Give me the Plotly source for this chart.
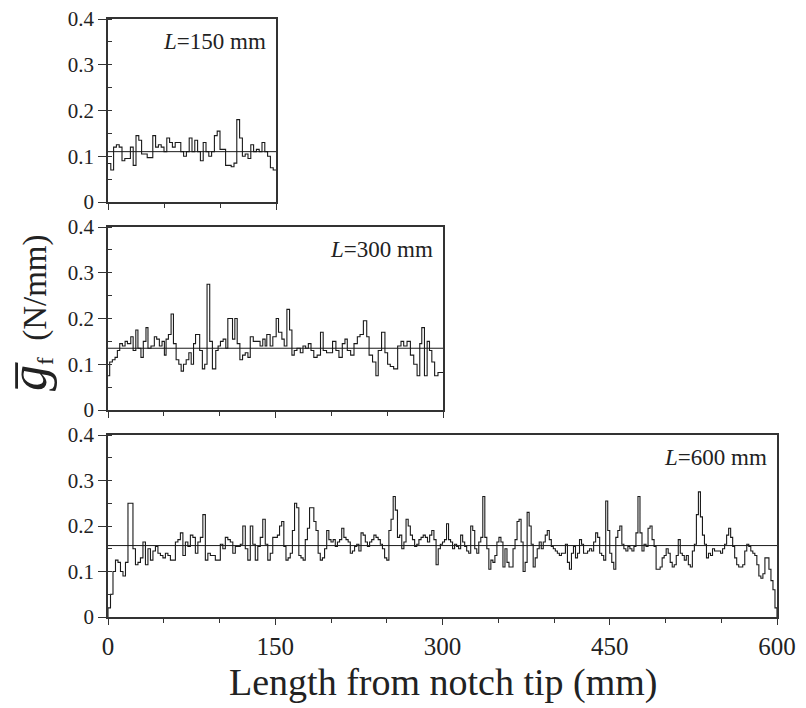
import plotly.graph_objects as go

# ---------------- data (mm, N/mm) ----------------
top_L = 150
top_bin = 2.5
top_mean = 0.11
top_vals = [0.084, 0.07, 0.12, 0.125, 0.12, 0.09, 0.095, 0.095, 0.12, 0.08,
            0.145, 0.135, 0.105, 0.105, 0.097, 0.097, 0.145, 0.12, 0.125, 0.12,
            0.11, 0.14, 0.13, 0.12, 0.13, 0.13, 0.11, 0.10, 0.11, 0.14,
            0.11, 0.135, 0.11, 0.09, 0.13, 0.11, 0.10, 0.11, 0.145, 0.155,
            0.115, 0.115, 0.08, 0.08, 0.077, 0.085, 0.18, 0.14, 0.10, 0.105,
            0.095, 0.125, 0.11, 0.115, 0.11, 0.13, 0.11, 0.10, 0.075, 0.07]

mid_L = 300
mid_mean = 0.135
mid_starts = [0, 1.5, 3.9, 6.3, 8.4, 10.5, 12.9, 15.3, 17.4, 20.4,
              22.5, 24.9, 26.8, 29.5, 31.6, 34.0, 35.8, 38.5, 41.5, 43.6,
              46.0, 48.4, 50.5, 52.0, 54.1, 56.5, 58.6, 61.0, 63.4, 65.5,
              67.6, 70.0, 72.4, 74.5, 76.6, 78.4, 82.1, 84.5, 86.6, 88.7,
              91.1, 93.5, 96.5, 98.6, 100.7, 103.1, 105.5, 107.3, 111.5, 113.6,
              115.7, 118.1, 120.5, 122.9, 125.3, 127.4, 130.1, 133.2, 136.2, 138.6,
              140.7, 142.2, 145.2, 147.6, 150.6, 152.7, 155.7, 157.8, 160.2, 162.6,
              164.7, 166.8, 169.2, 172.2, 174.6, 177.0, 179.4, 181.8, 184.3, 187.3,
              190.3, 192.7, 195.7, 198.7, 201.1, 204.1, 206.8, 209.8, 212.2, 214.3,
              217.3, 220.3, 223.3, 225.7, 228.7, 231.7, 233.8, 236.9, 239.9, 242.0,
              245.0, 248.0, 250.4, 252.8, 255.8, 259.4, 262.4, 264.8, 267.8, 270.8,
              273.8, 276.8, 279.2, 281.0, 283.4, 285.8, 287.9, 290.0, 292.5, 295.5]
mid_vals = [0.075, 0.105, 0.11, 0.115, 0.13, 0.145, 0.14, 0.15, 0.145, 0.16,
            0.13, 0.175, 0.135, 0.115, 0.15, 0.18, 0.135, 0.14, 0.16, 0.155,
            0.14, 0.15, 0.12, 0.155, 0.165, 0.21, 0.145, 0.11, 0.10, 0.085,
            0.10, 0.11, 0.125, 0.10, 0.145, 0.165, 0.13, 0.09, 0.10, 0.275,
            0.15, 0.09, 0.13, 0.14, 0.15, 0.155, 0.135, 0.20, 0.155, 0.20,
            0.145, 0.11, 0.12, 0.125, 0.115, 0.16, 0.15, 0.15, 0.14, 0.155,
            0.14, 0.165, 0.14, 0.16, 0.20, 0.17, 0.155, 0.14, 0.22, 0.175,
            0.12, 0.13, 0.135, 0.125, 0.14, 0.135, 0.145, 0.13, 0.115, 0.12,
            0.17, 0.13, 0.125, 0.125, 0.15, 0.13, 0.115, 0.145, 0.155, 0.13,
            0.12, 0.145, 0.16, 0.165, 0.195, 0.16, 0.12, 0.105, 0.075, 0.13,
            0.17, 0.125, 0.10, 0.095, 0.09, 0.14, 0.15, 0.14, 0.15, 0.12,
            0.10, 0.075, 0.145, 0.18, 0.075, 0.15, 0.13, 0.105, 0.075, 0.082]

bot_L = 600
bot_seg_len = 150
bot_mean = 0.157
bot_seg_a = [0.02, 0.05, 0.10, 0.125, 0.12, 0.10, 0.09, 0.12, 0.25, 0.25,
             0.15, 0.115, 0.12, 0.13, 0.165, 0.115, 0.15, 0.125, 0.145, 0.155,
             0.14, 0.135, 0.13, 0.14, 0.135, 0.125, 0.125, 0.165, 0.17, 0.185,
             0.135, 0.165, 0.155, 0.18, 0.175, 0.14, 0.165, 0.175, 0.225, 0.125,
             0.14, 0.135, 0.135, 0.125, 0.125, 0.16, 0.15, 0.175, 0.17, 0.165,
             0.14, 0.155, 0.155, 0.16, 0.20, 0.15, 0.125, 0.20, 0.16, 0.125,
             0.155, 0.175, 0.215, 0.16, 0.125, 0.14, 0.175]
bot_seg_b = [0.175, 0.18, 0.20, 0.21, 0.155, 0.125, 0.13, 0.14, 0.19, 0.25,
             0.24, 0.135, 0.13, 0.125, 0.17, 0.195, 0.24, 0.24, 0.21, 0.19,
             0.14, 0.125, 0.13, 0.15, 0.19, 0.17, 0.165, 0.17, 0.155, 0.165,
             0.17, 0.195, 0.175, 0.17, 0.165, 0.14, 0.145, 0.155, 0.16, 0.145,
             0.185, 0.18, 0.165, 0.155, 0.165, 0.17, 0.18, 0.175, 0.17, 0.16,
             0.15, 0.13, 0.125, 0.19, 0.215, 0.265, 0.235, 0.175, 0.18, 0.15,
             0.165, 0.215, 0.20, 0.18, 0.17, 0.155, 0.16, 0.17, 0.175, 0.18,
             0.175, 0.165, 0.18, 0.19, 0.17, 0.115, 0.15, 0.16]
bot_seg_c = [0.165, 0.17, 0.205, 0.17, 0.165, 0.15, 0.16, 0.155, 0.15, 0.18,
             0.165, 0.155, 0.145, 0.14, 0.20, 0.19, 0.15, 0.14, 0.165, 0.175,
             0.265, 0.175, 0.15, 0.105, 0.125, 0.12, 0.135, 0.165, 0.175, 0.165,
             0.11, 0.15, 0.12, 0.11, 0.11, 0.15, 0.17, 0.21, 0.215, 0.165,
             0.10, 0.12, 0.23, 0.20, 0.16, 0.11, 0.13, 0.15, 0.165, 0.15,
             0.165, 0.18, 0.19, 0.17, 0.155, 0.15, 0.145, 0.14, 0.135, 0.14,
             0.14, 0.16, 0.12, 0.105, 0.14, 0.155, 0.13, 0.14, 0.17, 0.16,
             0.14, 0.14, 0.145, 0.15, 0.145, 0.165, 0.185, 0.175, 0.14, 0.135,
             0.125, 0.255, 0.19]
bot_seg_d = [0.14, 0.12, 0.105, 0.175, 0.19, 0.20, 0.16, 0.15, 0.145, 0.155,
             0.15, 0.145, 0.155, 0.185, 0.265, 0.185, 0.145, 0.16, 0.155, 0.195,
             0.20, 0.17, 0.155, 0.105, 0.105, 0.11, 0.13, 0.135, 0.15, 0.14,
             0.12, 0.11, 0.115, 0.135, 0.17, 0.14, 0.135, 0.125, 0.135, 0.115,
             0.11, 0.145, 0.16, 0.225, 0.275, 0.22, 0.18, 0.16, 0.13, 0.14,
             0.135, 0.15, 0.145, 0.145, 0.145, 0.14, 0.15, 0.16, 0.18, 0.195,
             0.175, 0.155, 0.13, 0.115, 0.11, 0.11, 0.115, 0.145, 0.16, 0.155,
             0.145, 0.14, 0.135, 0.115, 0.09, 0.085, 0.095, 0.13, 0.13, 0.105,
             0.08, 0.06, 0.02]

x_tick_labels = [0, 150, 300, 450, 600]
y_tick_vals = [0, 0.1, 0.2, 0.3, 0.4]
y_tick_text = ["0", "0.1", "0.2", "0.3", "0.4"]
panel_labels = ["<i>L</i>=150 mm", "<i>L</i>=300 mm", "<i>L</i>=600 mm"]

# ---------------- build step series ----------------
top_x = [i * top_bin for i in range(len(top_vals))] + [top_L]
top_y = top_vals + [top_vals[-1]]

mid_x = mid_starts + [mid_L]
mid_y = mid_vals + [mid_vals[-1]]

bot_x, bot_y = [0], [0]
for s, seg in enumerate([bot_seg_a, bot_seg_b, bot_seg_c, bot_seg_d]):
    n = len(seg)
    for i, v in enumerate(seg):
        bot_x.append(s * bot_seg_len + bot_seg_len * i / n)
        bot_y.append(v)
bot_x.append(bot_L)
bot_y.append(0)

LINE = dict(color="#1a1a1a", width=1.1)
MEAN = dict(color="#1a1a1a", width=1.0)
FONT = "Liberation Serif, Times New Roman, Times, serif"

fig = go.Figure()
panels = [("x", "y", top_x, top_y, top_L, top_mean),
          ("x2", "y2", mid_x, mid_y, mid_L, mid_mean),
          ("x3", "y3", bot_x, bot_y, bot_L, bot_mean)]
for xa, ya, xs, ys, L, m in panels:
    fig.add_trace(go.Scatter(x=xs, y=ys, mode="lines", line=LINE,
                             line_shape="hv", xaxis=xa, yaxis=ya,
                             showlegend=False, hoverinfo="skip"))
    fig.add_trace(go.Scatter(x=[0, L], y=[m, m], mode="lines", line=MEAN,
                             xaxis=xa, yaxis=ya, showlegend=False,
                             hoverinfo="skip"))

W, H = 806, 708
def xd(a, b):
    return [a / W, b / W]
def yd(top, bottom):
    return [1 - bottom / H, 1 - top / H]

axis_common = dict(showgrid=False, zeroline=False, showline=True, mirror=True,
                   linecolor="#333", linewidth=1.6, automargin=False)

yax = dict(axis_common, range=[0, 0.4], tickvals=y_tick_vals,
           ticktext=y_tick_text,
           ticks="outside", ticklen=8, tickcolor="#333", tickwidth=1.2,
           minor=dict(dtick=0.05, tick0=0, ticks="inside", ticklen=4,
                      tickcolor="#333", tickwidth=1),
           tickfont=dict(family=FONT, size=21, color="#222"))

def xax(L, labels):
    d = dict(axis_common, range=[0, L], ticks="outside", tickcolor="#333",
             tickwidth=1.2, ticklen=6,
             minor=dict(dtick=50, tick0=0, ticks="outside", ticklen=4,
                        tickcolor="#333", tickwidth=1),
             tickfont=dict(family=FONT, size=25, color="#222"))
    if labels:
        d.update(tickvals=x_tick_labels, ticktext=[str(v) for v in x_tick_labels],
                 showticklabels=True)
    else:
        d.update(tickvals=[v for v in x_tick_labels if v <= L], showticklabels=False)
    return d

fig.update_layout(
    width=W, height=H, autosize=False,
    margin=dict(l=0, r=0, t=0, b=0, pad=0, autoexpand=False),
    paper_bgcolor="white", plot_bgcolor="white",
    font=dict(family=FONT, color="#222"),
    showlegend=False,
    xaxis=dict(xax(top_L, False), domain=xd(108, 276), anchor="y"),
    yaxis=dict(yax, domain=yd(19, 202), anchor="x"),
    xaxis2=dict(xax(mid_L, False), domain=xd(108, 443), anchor="y2"),
    yaxis2=dict(yax, domain=yd(227, 410), anchor="x2"),
    xaxis3=dict(xax(bot_L, True), domain=xd(108, 777), anchor="y3"),
    yaxis3=dict(yax, domain=yd(435, 617), anchor="x3"),
)

for i, lab in enumerate(panel_labels):
    sfx = "" if i == 0 else str(i + 1)
    fig.add_annotation(text=lab, xref="x%s domain" % sfx, yref="y%s domain" % sfx,
                       x=1, y=1, xshift=-8, yshift=-8, xanchor="right",
                       yanchor="top", showarrow=False,
                       font=dict(family=FONT, size=23, color="#222"))

fig.add_annotation(text="Length from notch tip (mm)", xref="paper", yref="paper",
                   x=443 / W, y=1 - 682 / H, xanchor="center", yanchor="middle",
                   showarrow=False, font=dict(family=FONT, size=38, color="#222"))

fig.add_annotation(text="<span style='font-size:52px'><i>g\u0305</i></span>"
                        "<sub>f</sub>  (N/mm)",
                   xref="paper", yref="paper", x=29 / W, y=1 - 313 / H,
                   xanchor="center", yanchor="middle", textangle=-90,
                   showarrow=False, font=dict(family=FONT, size=33, color="#222"))

fig.write_html("out.html", config={"displayModeBar": False},
               post_script="document.body.style.margin='0';"
                           "document.body.style.overflow='hidden';")
